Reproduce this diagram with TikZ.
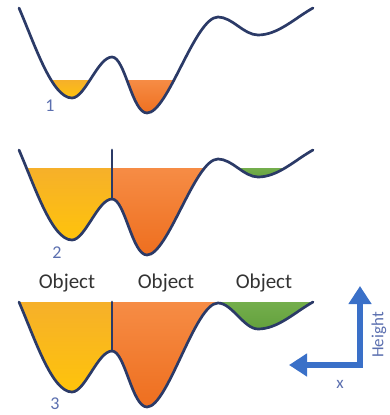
\documentclass[tikz,border=0pt]{standalone}
\usepackage{fontspec}
\setmainfont{Carlito}
\usetikzlibrary{arrows.meta}
\definecolor{curvec}{HTML}{2B3A67}
\definecolor{ytop}{HTML}{F6B02A}
\definecolor{ybot}{HTML}{FFC40A}
\definecolor{otop}{HTML}{F68C45}
\definecolor{obot}{HTML}{EE6E1E}
\definecolor{gtop}{HTML}{74AE4C}
\definecolor{gbot}{HTML}{62A03C}
\definecolor{axisblue}{HTML}{3A70C8}
\definecolor{numc}{HTML}{5B6FAF}
\definecolor{txtc}{HTML}{333333}
\newcommand\terrain[1]{(19,8) .. controls (35,45) and (52,98) .. (72,98)
  .. controls (85,98) and (98,57) .. (112,57)
  .. controls (125,57) and (132,113) .. (147,113)
  .. controls (168,113) and (195,#1) .. (218,#1)
  .. controls (232,#1) and (244,35) .. (258,35)
  .. controls (278,35) and (295,18) .. (313,8)}
\newcommand\skyover[1]{\terrain{#1} -- (313,-60) -- (19,-60) -- cycle}
\tikzset{
  curveline/.style={draw=curvec, line width=2.7pt, line cap=round, line join=round},
  objlabel/.style={text=txtc, font=\fontsize{21}{24}\selectfont, inner sep=0pt},
  numlabel/.style={text=numc, font=\fontsize{18}{20}\selectfont, inner sep=0pt},
  axisarrow/.style={draw=axisblue, line width=6pt, line join=miter,
    {Triangle[length=18pt,width=22pt]}-{Triangle[length=18pt,width=22pt]}},
  axislabel/.style={text=numc, font=\fontsize{17}{19}\selectfont, inner sep=0pt}
}
\begin{document}
\begin{tikzpicture}[x=1pt,y=-1pt]
\useasboundingbox (0,0) rectangle (390,415);
% ---------- panel 1 ----------
\begin{scope}
  \begin{scope}
    \clip \skyover{17};
    \clip (40,80) rectangle (100,130);
    \shade[top color=ytop, bottom color=ybot] (40,80) rectangle (100,100);
  \end{scope}
  \begin{scope}
    \clip \skyover{17};
    \clip (115,80) rectangle (195,130);
    \shade[top color=otop, bottom color=obot] (115,80) rectangle (195,115);
  \end{scope}
  \draw[curveline] \terrain{17};
  \node[numlabel] (n1) at (50,106) {1};
\end{scope}
% ---------- panel 2 ----------
\begin{scope}[shift={(0,142)}]
  \begin{scope}
    \clip \skyover{17};
    \clip (19,26) rectangle (112,130);
    \shade[top color=ytop, bottom color=ybot] (19,26) rectangle (112,100);
  \end{scope}
  \begin{scope}
    \clip \skyover{17};
    \clip (112,26) rectangle (222,130);
    \shade[top color=otop, bottom color=obot] (112,26) rectangle (222,115);
  \end{scope}
  \begin{scope}
    \clip \skyover{17};
    \clip (222,26) rectangle (313,130);
    \shade[top color=gtop, bottom color=gbot] (222,26) rectangle (313,37);
  \end{scope}
  \draw[curveline] (112,8) -- (112,57);
  \draw[curveline] \terrain{17};
  \node[numlabel] (n2) at (57,111) {2};
\end{scope}
% ---------- panel 3 ----------
\begin{scope}[shift={(0,294)}]
  \begin{scope}
    \clip \skyover{9};
    \clip (19,8) rectangle (112,130);
    \shade[top color=ytop, bottom color=ybot] (19,8) rectangle (112,100);
  \end{scope}
  \begin{scope}
    \clip \skyover{9};
    \clip (112,8) rectangle (219,130);
    \shade[top color=otop, bottom color=obot] (112,8) rectangle (219,115);
  \end{scope}
  \begin{scope}
    \clip \skyover{9};
    \clip (219,8) rectangle (313,130);
    \shade[top color=gtop, bottom color=gbot] (219,8) rectangle (313,37);
  \end{scope}
  \draw[curveline] (112,8) -- (112,57);
  \draw[curveline] \terrain{9};
  \node[numlabel] (n3) at (55,110) {3};
\end{scope}
% ---------- labels ----------
\node[objlabel] (o1) at (67,283) {Object};
\node[objlabel] (o2) at (166,283) {Object};
\node[objlabel] (o3) at (264,283) {Object};
% ---------- axes ----------
\coordinate (vtip) at (360,286);
\coordinate (corner) at (360,365);
\coordinate (htip) at (289,365);
\draw[axisarrow] (vtip) -- (corner) -- (htip);
\node[axislabel] (xl) at (340,384) {x};
\node[axislabel, rotate=90] (hl) at (379,335) {Height};
\end{tikzpicture}
\end{document}
